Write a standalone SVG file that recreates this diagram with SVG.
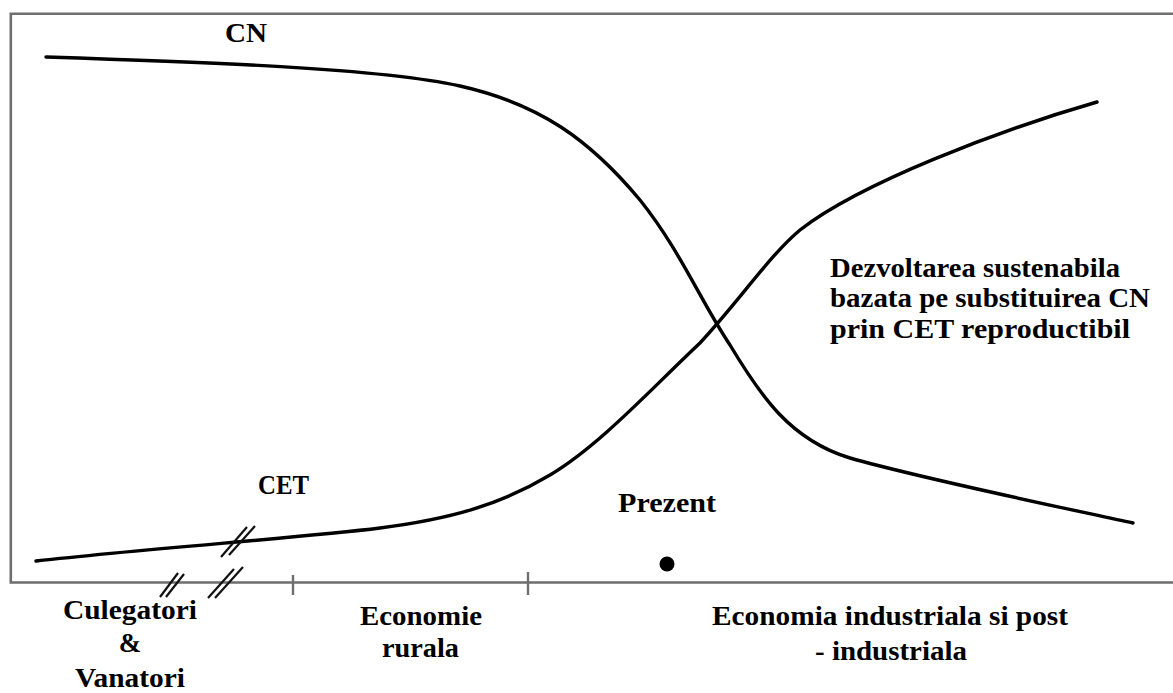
<svg xmlns="http://www.w3.org/2000/svg" width="1173" height="693" viewBox="0 0 1173 693">
  <style>
    .frame { stroke: #6e6e6e; stroke-width: 2.6; fill: none; }
    .tick { stroke: #6e6e6e; stroke-width: 2.4; fill: none; }
    .curve { stroke: #000; stroke-width: 3.4; fill: none; stroke-linecap: round; }
    .brk { stroke: #111; stroke-width: 2.2; fill: none; }
    .lbl { font-family: "Liberation Serif", "Times New Roman", serif; font-weight: bold; font-size: 27px; fill: #000; }
    .mid { text-anchor: middle; }
  </style>
  <rect width="1173" height="693" fill="#fff"/>

  <!-- chart frame (open on the right) -->
  <g id="frame">
    <path class="frame" d="M1173,13.8 H10.8 V582.5 H1173"/>
    <line class="tick" x1="293" y1="575" x2="293" y2="595"/>
    <line class="tick" x1="528" y1="572" x2="528" y2="595"/>
  </g>

  <g id="connectors">
    <!-- CN: natural capital, declining -->
    <path id="curve-cn" class="curve" d="M46,57 C200,62 380,68 460,86 C540,104 590,140 640,200 C680,250 700,300 730,345 C760,395 790,440 850,458 C920,478 1050,505 1133,523"/>
    <!-- CET: technical capital, rising -->
    <path id="curve-cet" class="curve" d="M36,561 C150,548 300,538 380,528 C450,519 500,505 550,475 C600,445 650,390 700,343 C740,300 770,255 800,230 C860,183 1000,130 1097,102"/>
    <!-- break marks -->
    <g id="breaks">
      <line class="brk" x1="221" y1="557" x2="247" y2="527"/>
      <line class="brk" x1="229" y1="555" x2="255" y2="526"/>
      <line class="brk" x1="160" y1="597" x2="178" y2="573"/>
      <line class="brk" x1="166" y1="597" x2="184" y2="574"/>
      <line class="brk" x1="208" y1="598" x2="234" y2="569"/>
      <line class="brk" x1="215" y1="598" x2="243" y2="567"/>
    </g>
  </g>

  <g id="label-cn"><text class="lbl" x="225" y="42" textLength="42" lengthAdjust="spacingAndGlyphs">CN</text></g>
  <g id="label-cet"><text class="lbl" x="258" y="494" textLength="51" lengthAdjust="spacingAndGlyphs">CET</text></g>

  <g id="present">
    <text class="lbl" x="618" y="512" textLength="98" lengthAdjust="spacingAndGlyphs">Prezent</text>
    <circle cx="667" cy="564" r="7.5" fill="#000"/>
  </g>

  <g id="note">
    <text class="lbl" x="830" y="277" textLength="290" lengthAdjust="spacingAndGlyphs">Dezvoltarea sustenabila</text>
    <text class="lbl" x="830" y="307" textLength="320" lengthAdjust="spacingAndGlyphs">bazata pe substituirea CN</text>
    <text class="lbl" x="830" y="338" textLength="300" lengthAdjust="spacingAndGlyphs">prin CET reproductibil</text>
  </g>

  <g id="era-1">
    <text class="lbl" x="63" y="619" textLength="134" lengthAdjust="spacingAndGlyphs">Culegatori</text>
    <text class="lbl mid" x="130" y="652">&amp;</text>
    <text class="lbl" x="75" y="687" textLength="110" lengthAdjust="spacingAndGlyphs">Vanatori</text>
  </g>
  <g id="era-2">
    <text class="lbl" x="360" y="625" textLength="122" lengthAdjust="spacingAndGlyphs">Economie</text>
    <text class="lbl" x="382" y="657" textLength="77" lengthAdjust="spacingAndGlyphs">rurala</text>
  </g>
  <g id="era-3">
    <text class="lbl" x="712" y="625" textLength="356" lengthAdjust="spacingAndGlyphs">Economia industriala si post</text>
    <text class="lbl" x="815" y="660" textLength="152" lengthAdjust="spacingAndGlyphs">- industriala</text>
  </g>
</svg>
